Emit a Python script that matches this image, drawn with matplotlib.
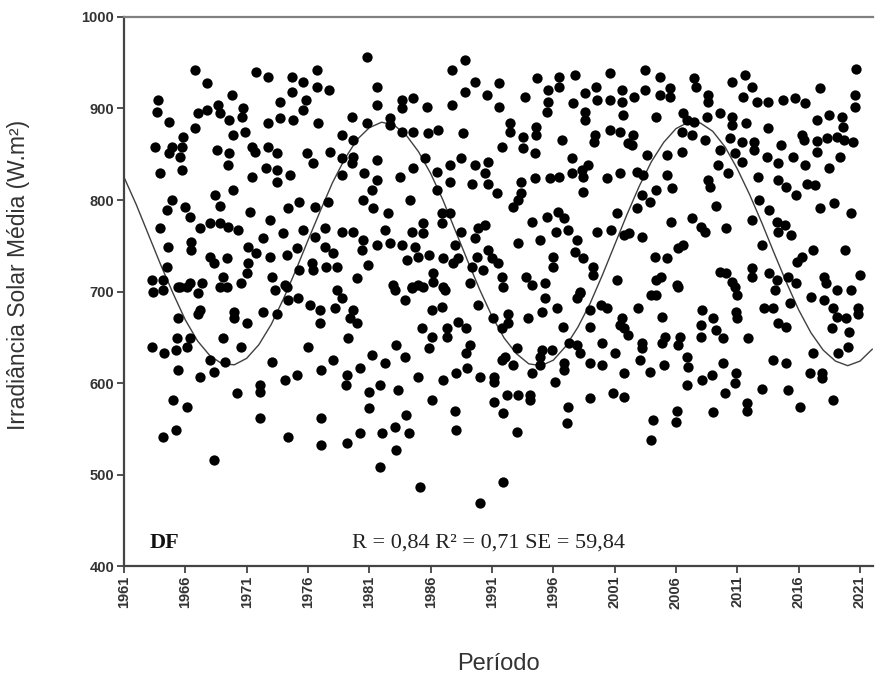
import matplotlib
matplotlib.use("Agg")
import matplotlib.pyplot as plt
import numpy as np

# monthly irradiance readings (year as decimal, W.m2)
years = [
    1966.8, 1967.8, 1969.8, 1963.8, 1963.7, 1964.7, 1967.0, 1967.8, 1968.7, 1968.8, 1969.6, 1970.7,
    1970.6, 1966.8, 1965.8, 1963.5, 1964.9, 1964.7, 1965.7, 1965.6, 1968.6, 1969.6, 1969.9, 1970.9,
    1969.5, 1963.9, 1965.7, 1969.9, 1971.4, 1971.4, 1964.9, 1964.5, 1966.0, 1966.4, 1968.4, 1968.8,
    1963.9, 1967.2, 1968.0, 1968.8, 1969.5, 1970.3, 1971.3, 1964.6, 1966.5, 1966.5, 1968.0, 1968.3,
    1969.4, 1971.1, 1964.5, 1963.3, 1964.2, 1965.4, 1966.4, 1967.4, 1969.1, 1968.8, 1970.5, 1971.0,
    1963.4, 1964.2, 1965.6, 1966.1, 1967.0, 1969.4, 1967.2, 1967.0, 1965.4, 1970.0, 1970.0, 1971.0,
    1969.1, 1963.3, 1965.3, 1966.4, 1966.1, 1965.2, 1964.3, 1970.5, 1968.0, 1968.3, 1967.2, 1969.2,
    1965.4, 1970.2, 1965.0, 1966.1, 1965.2, 1964.2, 1968.3,
    1980.8, 1971.8, 1972.7, 1974.7, 1975.6, 1976.7, 1976.7, 1977.7, 1981.6, 1974.7, 1973.7, 1975.8,
    1975.6, 1972.7, 1973.7, 1974.8, 1976.8, 1979.6, 1980.8, 1981.6, 1978.8, 1979.7, 1971.7, 1972.7,
    1973.5, 1975.9, 1976.4, 1977.8, 1978.8, 1979.7, 1979.6, 1981.6, 1972.6, 1973.5, 1973.5, 1974.5,
    1978.8, 1980.6, 1981.6, 1981.2, 1980.5, 1981.3, 1975.3, 1974.4, 1976.6, 1977.6, 1972.9, 1977.4,
    1975.6, 1976.6, 1978.8, 1979.7, 1980.5, 1981.6, 1972.3, 1971.8, 1974.0, 1975.1, 1974.3, 1972.9,
    1977.4, 1978.0, 1980.4, 1980.9, 1980.0, 1976.3, 1976.4, 1977.5, 1978.4, 1971.1, 1973.1, 1974.1,
    1975.3,
    1973.3, 1974.3, 1975.2, 1974.4, 1976.2, 1977.0, 1977.0, 1973.5, 1972.3, 1978.4, 1978.8, 1978.2,
    1979.7, 1979.4, 1980.0, 1976.0, 1979.3, 1973.1, 1974.1, 1975.1, 1977.1, 1978.0, 1979.2, 1979.1,
    1980.2, 1972.1, 1972.1, 1981.2, 1981.0, 1981.0, 1972.1, 1974.4, 1977.1, 1977.1, 1979.2, 1980.2,
    1981.9,
    1988.8, 1987.7, 1983.7, 1984.6, 1983.7, 1985.7, 1988.8, 1989.6, 1987.7, 1990.6, 1991.6, 1991.6,
    1982.7, 1982.7, 1983.7, 1984.6, 1985.8, 1986.6, 1988.6, 1991.8, 1985.5, 1984.6, 1983.5, 1986.5,
    1987.6, 1988.5, 1989.6, 1990.7, 1990.4, 1990.7, 1989.4, 1991.4, 1987.6, 1986.5, 1984.3, 1982.5,
    1982.3, 1986.9, 1987.6, 1986.9, 1985.4, 1984.5, 1985.4, 1988.5, 1989.9, 1990.4, 1989.6, 1982.7,
    1983.7, 1984.7, 1985.0, 1985.9, 1984.1, 1987.0, 1988.0, 1988.2, 1987.8, 1989.8, 1990.7, 1991.0,
    1991.5, 1989.4, 1990.3, 1986.2, 1986.2, 1987.0, 1984.5, 1985.0, 1982.9, 1989.2, 1991.8,
    1983.1, 1984.5, 1985.4, 1987.2, 1983.9, 1989.9, 1991.1, 1991.8, 1986.1, 1986.9, 1985.3, 1986.1,
    1985.9, 1987.3, 1987.3, 1988.2, 1988.9, 1989.2, 1988.9, 1983.2, 1983.9, 1982.3, 1991.8, 1985.0,
    1987.0, 1988.1, 1989.0, 1990.0, 1991.2, 1981.9, 1983.3, 1986.1, 1988.0, 1988.1, 1991.2, 1984.0,
    1983.1, 1984.2, 1982.0, 1983.2, 1985.1, 1990.0, 1991.9,
    1994.7, 1996.5, 1997.8, 1996.5, 2000.6, 1993.7, 1995.6, 1995.6, 1995.5, 1997.6, 1998.6, 1998.6,
    1998.6, 1999.5, 1999.6, 2000.6, 2001.6, 2001.6, 2001.7, 1992.5, 1992.5, 1994.6, 1994.6, 1993.5,
    1993.5, 1994.5, 1996.7, 1999.4, 1999.3, 2000.6, 2001.4, 2002.1, 1997.5, 1998.8, 1998.3, 1997.5,
    1998.4, 1993.4, 1994.5, 1995.7, 1996.5, 2000.4, 2001.4, 1993.4, 1993.1, 1992.7, 1998.4, 2001.2,
    1994.3, 1995.5, 1996.4, 1996.9, 1996.2, 1997.2, 1997.9, 1999.6, 2000.7, 2001.8, 1994.9, 1993.1,
    1996.0, 1996.0, 1997.8, 1998.4, 1999.2, 1999.2, 1993.8, 1994.3, 1995.3, 2001.2, 1998.2,
    1991.9, 1995.3, 1995.1, 1996.3, 1997.9, 1998.2, 1992.3, 1992.3, 1993.9, 1996.8, 1999.0, 1999.0,
    1999.9, 2000.4, 2001.4, 2001.6, 1993.0, 1992.1, 1992.7, 1991.2, 1995.1, 1995.9, 1994.9, 1994.9,
    1997.3, 1997.9, 1998.2, 1996.9, 1996.9, 1999.0, 2000.0, 2000.0, 2001.0, 2001.8, 1994.3, 1996.1,
    2001.8, 1992.2, 1993.1, 1994.1, 1994.1, 1991.9, 1997.2, 1997.1, 1999.0, 2000.9, 2001.8, 1993.0,
    2003.5, 2004.7, 2005.5, 2004.7, 2005.5, 2002.6, 2003.5, 2007.5, 2007.6, 2008.6, 2008.6, 2010.6,
    2011.6, 2011.5, 2012.2, 2004.4, 2006.6, 2006.9, 2007.5, 2008.5, 2009.6, 2010.6, 2010.6, 2011.7,
    2002.5, 2002.4, 2006.5, 2007.3, 2008.4, 2010.4, 2011.4, 2009.6, 2010.8, 2011.4, 2003.6, 2005.3,
    2006.5, 2009.4, 2010.2, 2002.8, 2003.3, 2005.3, 2008.6, 2008.8, 2004.4, 2005.7, 2003.2, 2003.9,
    2002.8, 2009.3, 2005.6, 2007.3, 2008.0, 2008.4, 2010.1, 2012.2, 2002.2, 2003.2, 2006.6, 2006.2,
    2004.3, 2005.3, 2004.4, 2004.8, 2006.1, 2009.6, 2010.1, 2010.6, 2012.2, 2012.2,
    2004.0, 2004.4, 2006.2, 2010.8, 2011.0, 2002.9, 2004.9, 2008.1, 2008.0, 2008.0, 2009.0, 2009.3,
    2009.8, 2010.9, 2011.0, 2011.9, 2002.1, 2003.2, 2003.2, 2005.1, 2006.3, 2004.9, 2006.2, 2003.1,
    2003.9, 2005.0, 2006.9, 2007.0, 2006.9, 2008.1, 2008.9, 2009.8, 2010.9, 2010.8, 2010.0, 2011.8,
    2011.8, 2006.1, 2006.0, 2004.1, 2004.0, 2009.0,
    2020.7, 2017.7, 2020.6, 2020.6, 2012.6, 2013.5, 2014.7, 2015.7, 2016.5, 2013.5, 2017.5, 2018.5,
    2019.5, 2019.6, 2016.3, 2016.4, 2017.5, 2018.3, 2019.1, 2019.7, 2020.4, 2012.4, 2012.4, 2014.6,
    2015.5, 2013.4, 2017.5, 2019.4, 2014.3, 2016.5, 2018.5, 2012.7, 2014.3, 2015.0, 2015.8, 2016.7,
    2017.3, 2012.8, 2013.6, 2017.7, 2018.9, 2020.3, 2014.2, 2014.9, 2015.4, 2014.3, 2013.0, 2017.2,
    2016.3, 2015.9, 2019.8, 2021.0, 2013.6, 2014.2, 2015.1, 2015.8, 2018.1, 2018.2,
    2014.1, 2017.0, 2018.1, 2019.1, 2020.3, 2013.2, 2013.9, 2015.3, 2014.3, 2015.0, 2018.8, 2019.1,
    2019.9, 2020.8, 2020.8, 2018.7, 2020.1, 2020.0, 2019.2, 2017.2, 2013.9, 2015.0, 2016.9, 2017.9,
    2017.9, 2013.0, 2015.1, 2016.1, 2018.8,
]
irradiance = [
    942, 928, 915, 909, 896, 885, 895, 898, 904, 895, 887, 900,
    891, 879, 869, 858, 858, 851, 858, 847, 855, 851, 871, 874,
    838, 829, 833, 811, 858, 825, 800, 789, 792, 781, 805, 794,
    769, 769, 775, 775, 770, 767, 787, 749, 754, 745, 738, 731,
    737, 749, 727, 713, 713, 705, 709, 709, 716, 705, 709, 720,
    700, 702, 705, 705, 698, 705, 680, 676, 671, 678, 671, 666,
    649, 639, 649, 649, 639, 636, 633, 639, 625, 612, 607, 623,
    614, 589, 581, 574, 549, 541, 516,
    956, 940, 934, 934, 929, 942, 924, 920, 924, 918, 907, 909,
    898, 884, 890, 887, 884, 891, 884, 904, 871, 866, 852, 858,
    851, 851, 840, 852, 846, 847, 840, 844, 835, 833, 820, 827,
    827, 829, 822, 811, 800, 791, 798, 791, 792, 798, 778, 769,
    767, 760, 765, 765, 756, 751, 758, 742, 764, 748, 740, 738,
    749, 742, 745, 729, 715, 731, 724, 727, 727, 731, 716, 707,
    724,
    702, 705, 693, 691, 685, 680, 666, 676, 678, 702, 693, 682,
    680, 671, 666, 639, 649, 623, 603, 609, 614, 625, 609, 598,
    616, 598, 590, 631, 590, 573, 562, 541, 562, 532, 535, 545,
    508,
    953, 942, 909, 911, 901, 902, 918, 929, 904, 915, 928, 902,
    890, 882, 874, 874, 873, 876, 873, 858, 846, 835, 825, 831,
    838, 846, 838, 842, 829, 818, 818, 808, 820, 811, 800, 786,
    767, 786, 786, 775, 775, 765, 764, 765, 769, 773, 758, 753,
    751, 749, 738, 740, 734, 737, 751, 737, 731, 738, 745, 737,
    731, 727, 723, 720, 710, 705, 705, 707, 707, 709, 716,
    702, 704, 705, 702, 691, 685, 671, 660, 680, 683, 660, 650,
    638, 660, 650, 667, 660, 642, 633, 642, 628, 622, 625, 607,
    603, 611, 616, 607, 607, 598, 592, 581, 570, 549, 579, 565,
    552, 545, 545, 527, 486, 469, 492,
    933, 934, 937, 923, 939, 913, 920, 907, 896, 906, 917, 896,
    887, 924, 909, 909, 920, 907, 893, 884, 874, 880, 871, 869,
    857, 851, 866, 871, 863, 876, 874, 862, 846, 838, 833, 829,
    825, 820, 824, 824, 825, 824, 829, 808, 800, 792, 809, 786,
    776, 781, 787, 780, 765, 767, 756, 765, 767, 762, 756, 753,
    738, 727, 743, 737, 727, 718, 716, 707, 709, 713, 700,
    705, 693, 678, 682, 693, 698, 676, 666, 671, 661, 661, 680,
    685, 682, 663, 671, 638, 628, 620, 601, 636, 636, 628, 620,
    644, 642, 633, 622, 614, 622, 620, 644, 633, 660, 611, 601,
    611, 587, 587, 587, 582, 567, 574, 556, 584, 589, 585, 546,
    942, 934, 922, 915, 913, 913, 920, 933, 924, 915, 907, 929,
    937, 913, 924, 891, 895, 887, 885, 891, 895, 891, 882, 884,
    871, 860, 874, 871, 866, 868, 863, 855, 851, 842, 849, 849,
    852, 838, 829, 831, 827, 827, 822, 814, 811, 813, 805, 798,
    791, 794, 776, 780, 770, 765, 769, 778, 764, 760, 751, 748,
    738, 737, 713, 716, 707, 721, 720, 710, 726, 716,
    696, 696, 705, 705, 696, 682, 672, 680, 663, 650, 671, 658,
    649, 678, 671, 649, 652, 644, 638, 650, 650, 644, 642, 625,
    612, 620, 628, 618, 598, 603, 609, 622, 611, 600, 589, 578,
    570, 570, 557, 560, 538, 568,
    943, 922, 915, 902, 907, 907, 909, 911, 906, 879, 887, 893,
    891, 880, 871, 866, 864, 868, 869, 866, 863, 863, 855, 860,
    847, 847, 852, 847, 840, 838, 835, 825, 822, 814, 805, 818,
    816, 800, 789, 791, 797, 786, 776, 773, 762, 765, 751, 745,
    738, 732, 745, 718, 720, 713, 716, 709, 716, 709,
    702, 694, 691, 702, 702, 682, 682, 687, 666, 661, 682, 672,
    671, 682, 676, 660, 656, 639, 633, 633, 625, 622, 611, 611,
    605, 594, 592, 574, 581,
]

# fitted sinusoidal trend, one value per year
fit_years = list(range(1961, 2023))
fit_values = [
    825, 795, 762, 729, 698, 669, 646, 630, 621, 620, 627, 642,
    664, 692, 723, 756, 788, 819, 845, 866, 879, 885, 882, 871,
    853, 829, 800, 767, 734, 702, 673, 649, 632, 621, 619, 625,
    640, 661, 687, 718, 751, 784, 815, 842, 863, 878, 885, 884,
    875, 858, 834, 806, 775, 742, 710, 680, 655, 636, 624, 619,
    624, 637,
]

xticks = list(range(1961, 2022, 5))

fig = plt.figure(figsize=(8.75, 6.78), dpi=100)
ax = fig.add_axes([0.1417, 0.165, 0.856, 0.81])

ax.scatter(years, irradiance, s=55, c="black", marker="o", linewidths=0, zorder=3)
ax.plot(fit_years, fit_values, color="#404040", linewidth=1.0, zorder=2)

ax.set_xlim(1961, 2022.06)
ax.set_ylim(400, 1000)
ax.set_xticks(xticks)
ax.set_xticklabels([str(y) for y in xticks], rotation=90)
ax.set_yticks(range(400, 1001, 100))

for lab in ax.get_xticklabels() + ax.get_yticklabels():
    lab.set_fontfamily("Liberation Sans")
    lab.set_fontsize(10.5)
    lab.set_fontweight("bold")
    lab.set_color("#222222")

ax.tick_params(direction="out", length=5, width=1.2, colors="#333333", pad=2)
for side in ["left", "bottom", "top"]:
    ax.spines[side].set_linewidth(1.6)
    ax.spines[side].set_color("#444444")
ax.spines["top"].set_color("#808080")
ax.spines["right"].set_visible(False)

ax.set_ylabel("Irradiância Solar Média (W.m²)", fontfamily="Liberation Sans",
              fontsize=16.5, color="#333333")
ax.yaxis.set_label_coords(-0.125, 0.53)
ax.set_xlabel("Período", fontfamily="Liberation Sans", fontsize=17, color="#333333")
ax.xaxis.set_label_coords(0.5, -0.158)

ax.text(1963.1, 420, "DF", fontfamily="Liberation Serif", fontsize=16,
        fontweight="bold", color="#111111")
ax.text(1979.6, 420, "R = 0,84 R² = 0,71 SE = 59,84", fontfamily="Liberation Serif",
        fontsize=16, color="#222222")

fig.savefig("out.png", dpi=100)
